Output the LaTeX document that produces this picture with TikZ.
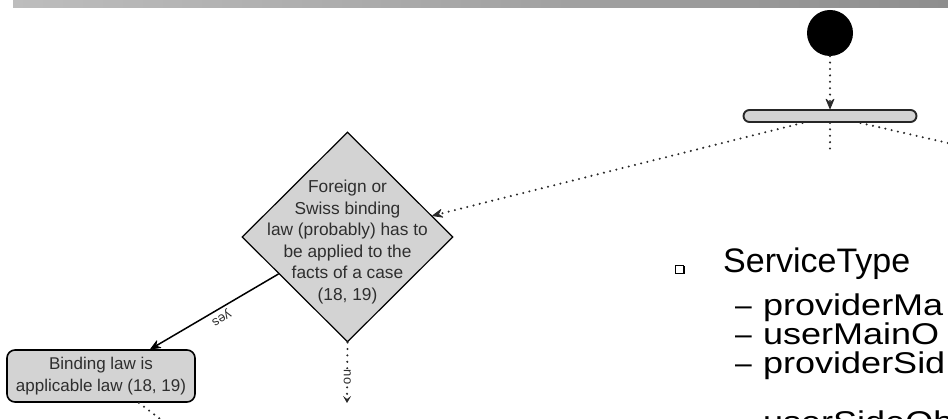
\documentclass[tikz,border=0pt]{standalone}
\usepackage{fontspec}
\setmainfont{Liberation Sans}
\usetikzlibrary{arrows.meta,shapes.geometric,calc}
\definecolor{boxgray}{HTML}{D3D3D3}
\definecolor{txtgray}{HTML}{2E2E2E}
\definecolor{dotgray}{HTML}{2A2A2A}
\definecolor{barleft}{HTML}{BDBDBD}
\definecolor{barright}{HTML}{8E8E8E}
\begin{document}
\begin{tikzpicture}[x=1pt,y=-1pt,
  dotline/.style={draw=dotgray, line width=2.3pt, line cap=round, dash pattern=on 0pt off 6.4pt},
  bigtip/.style={-{Stealth[length=12pt,width=10pt,inset=4.5pt,line width=0.8pt,line cap=butt,round]}},
  smalltip/.style={-{Stealth[length=7pt,width=8pt,inset=3pt,line width=0.8pt,line cap=butt]}},
  graybox/.style={draw=black, fill=boxgray, text=txtgray, font=\fontsize{17}{21.5}\selectfont, align=center},
  lbl/.style={text=txtgray, font=\fontsize{13}{13}\selectfont, inner sep=2.5pt},
  subitem/.style={anchor=base west, inner sep=0, font=\fontsize{30}{30}\selectfont\addfontfeature{FakeStretch=1.2}, text=black},
  subdash/.style={anchor=base west, inner sep=0, font=\fontsize{30}{30}\selectfont, text=black}]
\useasboundingbox (0,0) rectangle (948,419);
\clip (0,0) rectangle (948,419);
% top bar
\shade[left color=barleft, right color=barright] (13,0) rectangle (948,7.3);
% start node and fork
\node[circle, fill=black, minimum size=46pt, inner sep=0] (start) at (830,33) {};
\node[draw=black!85, line width=1.9pt, fill=boxgray, rounded corners=6pt, minimum width=173pt, minimum height=12pt, inner sep=0] (fork) at (830,116) {};
% decision
\node[diamond, aspect=1, draw=black, line width=1.2pt, fill=boxgray, minimum width=211pt, minimum height=210pt, inner sep=0] (dia) at (347.5,237) {};
\node[align=center, text=txtgray, font=\fontsize{17.3}{21.5}\selectfont, inner sep=0] (diatxt) at (347.5,242) {Foreign or\\Swiss binding\\law (probably) has to\\be applied to the\\facts of a case\\(18, 19)};
% action
\node[graybox, line width=1.6pt, rounded corners=8pt, minimum width=188pt, minimum height=52pt, inner sep=0] (bind) at (101,376) {Binding law is\\applicable law (18, 19)};
% connectors
\draw[dotline, bigtip] (start) -- (fork.north);
\coordinate (fL) at ($(fork.south west)!0.343!(fork.south east)$);
\draw[dotline, bigtip] (fL) -- (dia);
\coordinate (fR) at ($(fork.south west)!0.674!(fork.south east)$);
\coordinate (rEnd) at (960,145.8);
\draw[dotline] (fR) -- (rEnd);
\coordinate (cEnd) at (830,152);
\draw[dotline] (fork.south) -- (cEnd);
\coordinate (ys) at ($(dia.west)!0.35!(dia.south)$);
\coordinate (ye) at ($(bind.north west)!0.76!(bind.north east)$);
\draw[line width=1.5pt, bigtip] (ys) -- (ye) node[lbl, pos=0.48, rotate=210.7, anchor=south] (yes) {yes};
\coordinate (ne) at (347,403);
\draw[dotline, smalltip] (dia.south) -- (ne) node[lbl, pos=0.57, rotate=270, fill=white, inner sep=1pt] (no) {no};
\coordinate (bs) at ($(bind.south west)!0.7!(bind.south east)$);
\coordinate (bEnd) at (177,432);
\draw[dotline] (bs) -- (bEnd);
% right text
\node[fill=black, minimum size=8pt, inner sep=0] (bshad) at (680.5,270.5) {};
\node[draw=black, fill=white, line width=0.7pt, minimum size=8pt, inner sep=0] (bul) at (679,269) {};
\node[anchor=base west, inner sep=0, font=\fontsize{34}{34}\selectfont, text=black] (st) at (723,273) {ServiceType};
\node[subdash] (d1) at (735,316) {–};
\node[subitem] (s1) at (763,316) {providerMa};
\node[subdash] (d2) at (735,345) {–};
\node[subitem] (s2) at (763,345) {userMainO};
\node[subdash] (d3) at (735,374) {–};
\node[subitem] (s3) at (763,374) {providerSid};
\node[subdash] (d4) at (735,433) {–};
\node[subitem] (s4) at (763,433) {userSideOb};
\end{tikzpicture}
\end{document}
